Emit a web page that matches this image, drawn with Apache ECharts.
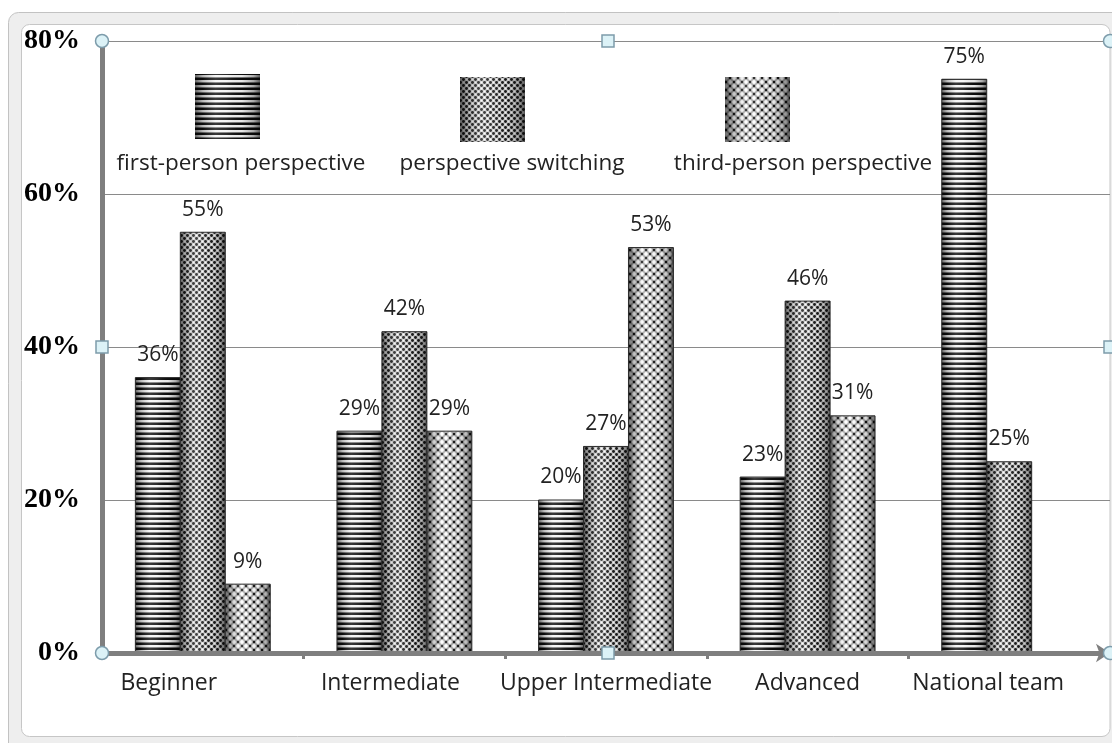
<!DOCTYPE html>
<html>
<head>
<meta charset="utf-8">
<style>
  html, body { margin: 0; padding: 0; background: #fff; }
  #chart { width: 1112px; height: 743px; }
</style>
<script src="https://cdn.jsdelivr.net/npm/echarts@6/dist/echarts.min.js"></script>
</head>
<body>
<div id="chart"></div>
<script>
// Share of players by viewing perspective, per skill level (percent)
const categories = ['Beginner', 'Intermediate', 'Upper Intermediate', 'Advanced', 'National team'];
const seriesNames = ['first-person perspective', 'perspective switching', 'third-person perspective'];
const firstPerson = [36, 29, 20, 23, 75];
const perspectiveSwitching = [55, 42, 27, 46, 25];
const thirdPerson = [9, 29, 53, 31, null];
const yTicks = [0, 20, 40, 60, 80];

const seriesValues = [firstPerson, perspectiveSwitching, thirdPerson];

// ---- fill patterns -------------------------------------------------------
function makeCanvas(w, h, draw) {
  const c = document.createElement('canvas');
  c.width = w; c.height = h;
  draw(c.getContext('2d'));
  return c;
}
const stripePattern = makeCanvas(4, 5, g => {
  g.fillStyle = '#f5f5f5'; g.fillRect(0, 0, 4, 5);
  g.fillStyle = '#7a7a7a'; g.fillRect(0, 2, 4, 1);
  g.fillStyle = '#0e0e0e'; g.fillRect(0, 3, 4, 2);
});
const smallDotPattern = makeCanvas(6, 6, g => {
  g.fillStyle = '#c8c8c8'; g.fillRect(0, 0, 6, 6);
  g.fillStyle = '#fafafa';
  g.beginPath(); g.arc(4.5, 1.5, 1.0, 0, Math.PI * 2); g.fill();
  g.beginPath(); g.arc(1.5, 4.5, 1.0, 0, Math.PI * 2); g.fill();
  g.fillStyle = '#1a1a1a';
  g.beginPath(); g.arc(1.5, 1.5, 1.45, 0, Math.PI * 2); g.fill();
  g.beginPath(); g.arc(4.5, 4.5, 1.45, 0, Math.PI * 2); g.fill();
});
const largeDotPattern = makeCanvas(8, 8, g => {
  g.fillStyle = '#a0a0a0'; g.fillRect(0, 0, 8, 8);
  g.fillStyle = '#ffffff';
  g.beginPath(); g.arc(2, 2, 1.9, 0, Math.PI * 2); g.fill();
  g.beginPath(); g.arc(6, 6, 1.9, 0, Math.PI * 2); g.fill();
  g.fillStyle = '#141414';
  g.fillRect(5, 1, 2, 2);
  g.fillRect(1, 5, 2, 2);
});
const patterns = [stripePattern, smallDotPattern, largeDotPattern]
  .map(img => ({ image: img, repeat: 'repeat' }));

// rounded, cylinder-like shading laid over the pattern
function shade() {
  return new echarts.graphic.LinearGradient(0, 0, 1, 0, [
    { offset: 0, color: 'rgba(0,0,0,0.6)' },
    { offset: 0.12, color: 'rgba(0,0,0,0.25)' },
    { offset: 0.32, color: 'rgba(255,255,255,0.18)' },
    { offset: 0.48, color: 'rgba(255,255,255,0.12)' },
    { offset: 0.72, color: 'rgba(0,0,0,0.05)' },
    { offset: 0.9, color: 'rgba(0,0,0,0.3)' },
    { offset: 1, color: 'rgba(0,0,0,0.62)' }
  ]);
}

const BAR_RATIO = 0.223; // bar width as a share of a category band
const TEXT_FONT = 'Open Sans';

function renderBar(k) {
  return function (params, api) {
    const v = api.value(1);
    if (v == null || isNaN(v)) return null;
    const cat = api.value(0);
    const top = api.coord([cat, v]);
    const base = api.coord([cat, 0]);
    const band = api.size([1, 0])[0];
    const w = band * BAR_RATIO;
    const x = top[0] + (k - 1) * w - w / 2;
    const shape = { x: x, y: top[1], width: w, height: base[1] - top[1] };
    return {
      type: 'group',
      children: [
        { type: 'rect', shape: shape, style: { fill: patterns[k] } },
        { type: 'rect', shape: shape, style: { fill: shade() } },
        { type: 'rect', shape: shape, style: { fill: 'none', stroke: '#2b2b2b', lineWidth: 1 } },
        {
          type: 'text', x: x + w / 2, y: top[1] - 12,
          style: {
            text: v + '%', fill: '#222', fontSize: 21, fontFamily: TEXT_FONT,
            align: 'center', verticalAlign: 'bottom'
          }
        }
      ]
    };
  };
}

// ---- legend (large swatches with captions underneath) --------------------
const legendSwatches = [
  { x: 195, y: 74, cx: 241 },
  { x: 460, y: 77, cx: 512 },
  { x: 725, y: 77, cx: 803 }
];
const legendElements = [];
legendSwatches.forEach((s, k) => {
  const shape = { x: s.x, y: s.y, width: 65, height: 65 };
  legendElements.push(
    { type: 'rect', z: 50, shape: shape, style: { fill: patterns[k] } },
    { type: 'rect', z: 51, shape: shape, style: { fill: shade() } },
    {
      type: 'text', z: 52, x: s.cx, y: 164,
      style: {
        text: seriesNames[k], fill: '#222', fontSize: 22.5, fontFamily: TEXT_FONT,
        align: 'center', verticalAlign: 'middle'
      }
    }
  );
});

// ---- frame and selection handles -----------------------------------------
const frameElements = [
  { type: 'rect', z: -20, shape: { x: 8.5, y: 12.5, width: 1140, height: 745, r: 10 },
    style: { fill: '#eeeeee', stroke: '#c2c2c2', lineWidth: 1 } },
  { type: 'rect', z: -19, shape: { x: 21.5, y: 24.5, width: 1088.5, height: 712, r: 8 },
    style: { fill: '#ffffff', stroke: '#c6c6c6', lineWidth: 1 } }
];
const handleStyle = { fill: '#dcf2f7', stroke: '#7d9cab', lineWidth: 1.5 };
const circleHandles = [[102, 41], [102, 653], [1110, 41], [1110, 653]].map(p => ({
  type: 'circle', z: 100, shape: { cx: p[0], cy: p[1], r: 6.5 }, style: handleStyle
}));
const squareHandles = [[608, 41], [102, 347], [1110, 347], [608, 653]].map(p => ({
  type: 'rect', z: 100, shape: { x: p[0] - 6, y: p[1] - 6, width: 12, height: 12 }, style: handleStyle
}));

// per-category horizontal nudge of the axis captions
const labelShift = [-34, -14, 0, 0, -21];

const option = {
  animation: false,
  backgroundColor: 'transparent',
  grid: { left: 102, right: 2, top: 41, bottom: 90 },
  xAxis: {
    type: 'category',
    z: 10,
    data: categories.map((c, i) => ({
      value: c,
      textStyle: { padding: labelShift[i] < 0 ? [0, -2 * labelShift[i], 0, 0] : [0, 0, 0, 2 * labelShift[i]] }
    })),
    axisLine: {
      lineStyle: { color: '#7f7f7f', width: 5 },
      symbol: ['none', 'arrow'], symbolSize: [14, 14]
    },
    axisTick: { show: true, interval: 0, length: 6, lineStyle: { color: '#7f7f7f', width: 3 } },
    axisLabel: {
      interval: 0, hideOverlap: false,
      fontFamily: TEXT_FONT, fontSize: 23, color: '#222', margin: 19
    }
  },
  yAxis: {
    type: 'value',
    min: yTicks[0], max: yTicks[yTicks.length - 1], interval: yTicks[1] - yTicks[0],
    axisLine: { show: true, lineStyle: { color: '#7f7f7f', width: 5 } },
    axisTick: { show: false },
    splitLine: { lineStyle: { color: '#8a8a8a', width: 1 } },
    axisLabel: {
      formatter: '{value}%', fontFamily: 'Liberation Serif', fontWeight: 'bold',
      fontSize: 28, color: '#000', margin: 22
    }
  },
  graphic: { elements: frameElements.concat(legendElements, circleHandles, squareHandles) },
  series: seriesValues.map((vals, k) => ({
    type: 'custom',
    name: seriesNames[k],
    z: 2,
    encode: { x: 0, y: 1 },
    data: vals.map((v, i) => [i, v]),
    renderItem: renderBar(k)
  }))
};

const chart = echarts.init(document.getElementById('chart'), null, { renderer: 'canvas' });
chart.setOption(option);
</script>
</body>
</html>
